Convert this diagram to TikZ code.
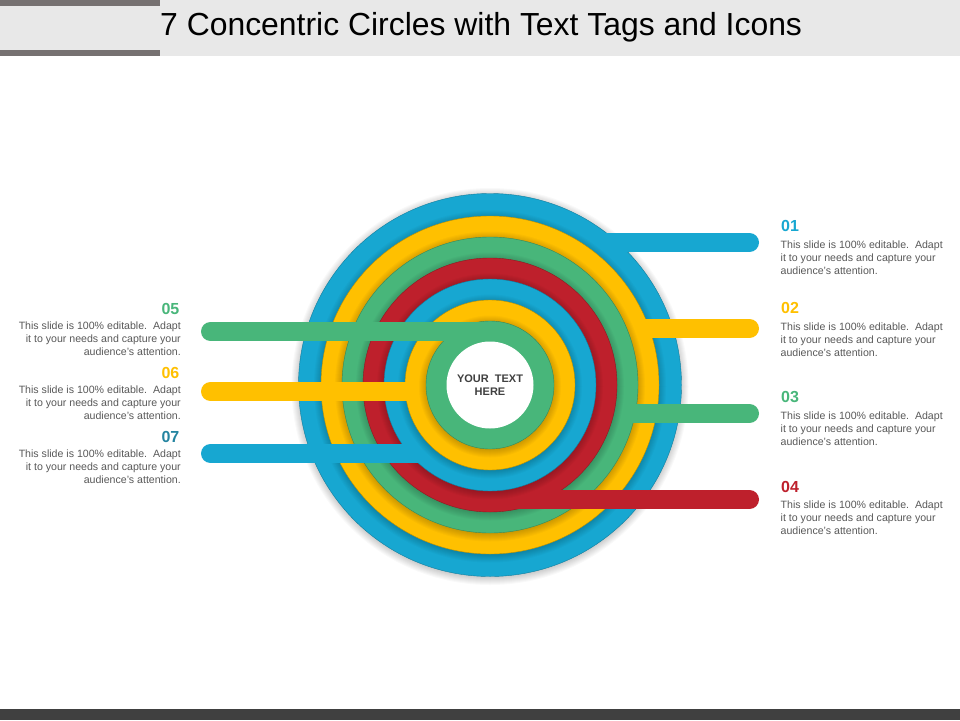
\documentclass[tikz,border=0pt]{standalone}
\usepackage{fontspec}
\setmainfont{Liberation Sans}
\definecolor{cblue}{RGB}{23,167,209}
\definecolor{cyellow}{RGB}{255,192,0}
\definecolor{cgreen}{RGB}{72,182,122}
\definecolor{cred}{RGB}{190,32,44}
\definecolor{cteal}{RGB}{36,132,160}
\definecolor{hdr}{RGB}{232,232,232}
\definecolor{hdrdark}{RGB}{118,113,113}
\definecolor{foot}{RGB}{64,64,64}
\definecolor{bodygray}{RGB}{89,89,89}
\newcommand{\ringdisk}[2]{%
  \foreach \sh in {1,2,...,8}{\fill[black,opacity=.022] (490,386.5) circle[radius=#1pt+\sh pt-1pt];}%
  \fill[#2,draw=#2!75!black,line width=.4pt] (490,385) circle[radius=#1pt];}
\tikzset{
  tagbar/.style={line width=19pt,line cap=round},
  bodytext/.style={font=\fontsize{10.6}{13}\selectfont,text=bodygray,inner sep=0pt},
  bodyr/.style={bodytext,align=left,anchor=north west},
  bodyl/.style={bodytext,align=right,anchor=north east},
  numtext/.style={font=\fontsize{16}{18}\selectfont\bfseries,inner sep=0pt},
  numr/.style={numtext,anchor=west},
  numl/.style={numtext,anchor=east},
}
\newcommand{\rtext}{This slide is 100\% editable.\ \ Adapt\\it to your needs and capture your\\audience's attention.}
\newcommand{\ltext}{This slide is 100\% editable.\ \ Adapt\\it to your needs and capture your\\audience's attention.}
\begin{document}
\begin{tikzpicture}[x=1pt,y=-1pt]
\useasboundingbox (0,0) rectangle (960,720);
\fill[white] (0,0) rectangle (960,720);
% header and footer
\fill[hdr] (0,0) rectangle (960,56);
\fill[hdrdark] (0,0) rectangle (160,6);
\fill[hdrdark] (0,49.5) rectangle (160,56);
\fill[foot] (0,709) rectangle (960,720);
\node[anchor=west,inner sep=0pt,font=\fontsize{31.9}{36}\selectfont,text=black] (title) at (160,27) {7 Concentric Circles with Text Tags and Icons};
% rings and bars, outermost first
\ringdisk{191.5}{cblue}
\draw[tagbar,cblue] (490,242.5) -- (749.5,242.5);
\ringdisk{169}{cyellow}
\draw[tagbar,cyellow] (490,328.5) -- (749.5,328.5);
\ringdisk{148}{cgreen}
\draw[tagbar,cgreen] (490,413.5) -- (749.5,413.5);
\ringdisk{127}{cred}
\draw[tagbar,cred] (490,499.5) -- (749.5,499.5);
\ringdisk{106}{cblue}
\draw[tagbar,cblue] (490,453.5) -- (210.5,453.5);
\ringdisk{85}{cyellow}
\draw[tagbar,cyellow] (490,391.5) -- (210.5,391.5);
\ringdisk{64}{cgreen}
\draw[tagbar,cgreen] (490,331.5) -- (210.5,331.5);
\fill[white] (490,385) circle[radius=43.5pt];
\node[align=center,inner sep=0pt,font=\fontsize{11}{13.5}\selectfont\bfseries,text=foot] (center) at (490,385.3) {YOUR\ \ TEXT\\HERE};
% right labels
\node[numr,text=cblue] (n1) at (781,226) {01};
\node[bodyr] (t1) at (780.5,241) {\rtext};
\node[numr,text=cyellow] (n2) at (781,308) {02};
\node[bodyr] (t2) at (780.5,323) {\rtext};
\node[numr,text=cgreen] (n3) at (781,396.5) {03};
\node[bodyr] (t3) at (780.5,412) {\rtext};
\node[numr,text=cred] (n4) at (781,487) {04};
\node[bodyr] (t4) at (780.5,501) {\rtext};
% left labels
\node[numl,text=cgreen] (n5) at (179.5,308.5) {05};
\node[bodyl] (t5) at (181,322) {\ltext};
\node[numl,text=cyellow] (n6) at (179.5,372.5) {06};
\node[bodyl] (t6) at (181,386) {\ltext};
\node[numl,text=cteal] (n7) at (179.5,436.5) {07};
\node[bodyl] (t7) at (181,450) {\ltext};
\end{tikzpicture}
\end{document}
